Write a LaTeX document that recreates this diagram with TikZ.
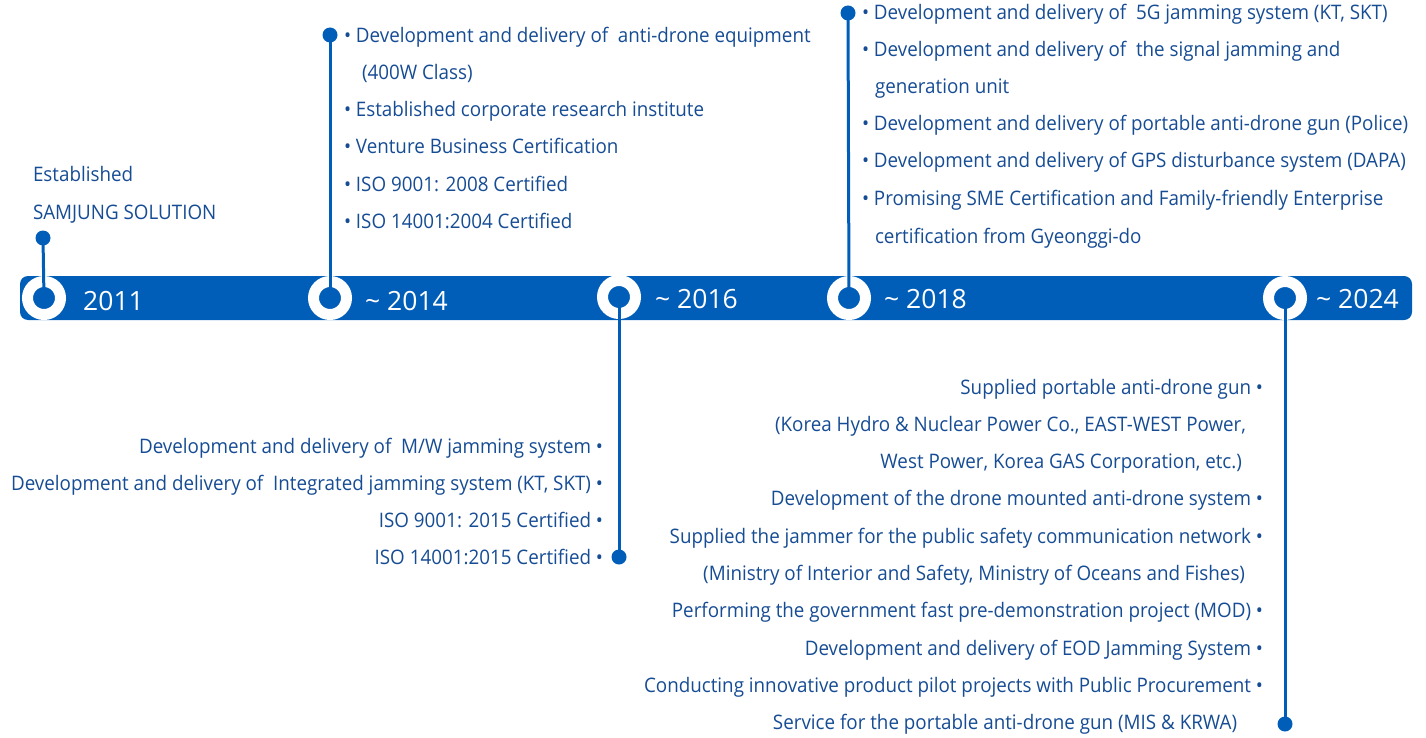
\documentclass[tikz,border=0pt]{standalone}
\usepackage{fontspec}
\setmainfont{Open Sans}[FakeStretch=0.94]
\newfontfamily\yearfont{Open Sans}
\definecolor{barblue}{RGB}{0,94,184}
\definecolor{txtblue}{RGB}{22,76,148}
\tikzset{
  body/.style={inner sep=0pt, outer sep=0pt, text=txtblue, font=\fontsize{20}{20}\selectfont},
  lbody/.style={body, anchor=base west},
  rbody/.style={body, anchor=base east},
  yearlbl/.style={inner sep=0pt, anchor=base west, text=white, font=\yearfont\fontsize{26.5}{26.5}\selectfont},
  ring/.style={circle, draw=white, line width=11pt, fill=barblue, minimum size=33pt, inner sep=0pt},
  dotnode/.style={circle, fill=barblue, minimum size=15pt, inner sep=0pt},
  stem/.style={draw=barblue, line width=3pt}
}
\begin{document}
\begin{tikzpicture}[x=1pt,y=-1pt]
\useasboundingbox (0,0) rectangle (1426,738);
% bar
\fill[barblue, rounded corners=8pt] (20,276) rectangle (1412,320);
% rings
\node[ring] (r2011) at (44,298) {};
\node[ring] (r2014) at (330,298) {};
\node[ring] (r2016) at (619,297) {};
\node[ring] (r2018) at (849,298) {};
\node[ring] (r2024) at (1285,298) {};
% dots
\node[dotnode] (d2011) at (43,238) {};
\node[dotnode] (d2014) at (330,35) {};
\node[dotnode] (d2016) at (619,557) {};
\node[dotnode] (d2018) at (848,13) {};
\node[dotnode] (d2024) at (1285,724) {};
% stems
\draw[stem] (d2011.center) -- (r2011.center);
\draw[stem] (d2014.center) -- (r2014.center);
\draw[stem] (r2016.center) -- (d2016.center);
\draw[stem] (d2018.center) -- (r2018.center);
\draw[stem] (r2024.center) -- (d2024.center);
% years
\node[yearlbl] (y2011) at (83,310) {2011};
\node[yearlbl] (y2014) at (365,310) {\textasciitilde{} 2014};
\node[yearlbl] (y2016) at (655,308) {\textasciitilde{} 2016};
\node[yearlbl] (y2018) at (884,308) {\textasciitilde{} 2018};
\node[yearlbl] (y2024) at (1316,308) {\textasciitilde{} 2024};
% 2011
\node[lbody] (t11a) at (33,182) {Established};
\node[lbody] (t11b) at (33,219) {SAMJUNG SOLUTION};
% 2014
\node[lbody] (t14a) at (344,43) {• Development and delivery of \ anti-drone equipment};
\node[lbody] (t14b) at (362,80) {(400W Class)};
\node[lbody] (t14c) at (344,117) {• Established corporate research institute};
\node[lbody] (t14d) at (344,154) {• Venture Business Certification};
\node[lbody] (t14e) at (344,192) {• ISO 9001: 2008 Certified};
\node[lbody] (t14f) at (344,229) {• ISO 14001:2004 Certified};
% 2018
\node[lbody] (t18a) at (862,20) {• Development and delivery of \ 5G jamming system (KT, SKT)};
\node[lbody] (t18b) at (862,57) {• Development and delivery of \ the signal jamming and};
\node[lbody] (t18c) at (875,94) {generation unit};
\node[lbody] (t18d) at (862,131) {• Development and delivery of portable anti-drone gun (Police)};
\node[lbody] (t18e) at (862,168) {• Development and delivery of GPS disturbance system (DAPA)};
\node[lbody] (t18f) at (862,206) {• Promising SME Certification and Family-friendly Enterprise};
\node[lbody] (t18g) at (875,243) {certification from Gyeonggi-do};
% 2016
\node[rbody] (t16a) at (603,453) {Development and delivery of \ M/W jamming system •};
\node[rbody] (t16b) at (603,490) {Development and delivery of \ Integrated jamming system (KT, SKT) •};
\node[rbody] (t16c) at (603,527) {ISO 9001: 2015 Certified •};
\node[rbody] (t16d) at (603,564) {ISO 14001:2015 Certified •};
% 2024
\node[rbody] (t24a) at (1263,394) {Supplied portable anti-drone gun •};
\node[rbody] (t24b) at (1246,431) {(Korea Hydro \& Nuclear Power Co., EAST-WEST Power,};
\node[rbody] (t24c) at (1242,468) {West Power, Korea GAS Corporation, etc.)};
\node[rbody] (t24d) at (1263,505) {Development of the drone mounted anti-drone system •};
\node[rbody] (t24e) at (1263,543) {Supplied the jammer for the public safety communication network •};
\node[rbody] (t24f) at (1245,580) {(Ministry of Interior and Safety, Ministry of Oceans and Fishes)};
\node[rbody] (t24g) at (1263,617) {Performing the government fast pre-demonstration project (MOD) •};
\node[rbody] (t24h) at (1263,655) {Development and delivery of EOD Jamming System •};
\node[rbody] (t24i) at (1263,692) {Conducting innovative product pilot projects with Public Procurement •};
\node[rbody] (t24j) at (1237,729) {Service for the portable anti-drone gun (MIS \& KRWA)};
\end{tikzpicture}
\end{document}
